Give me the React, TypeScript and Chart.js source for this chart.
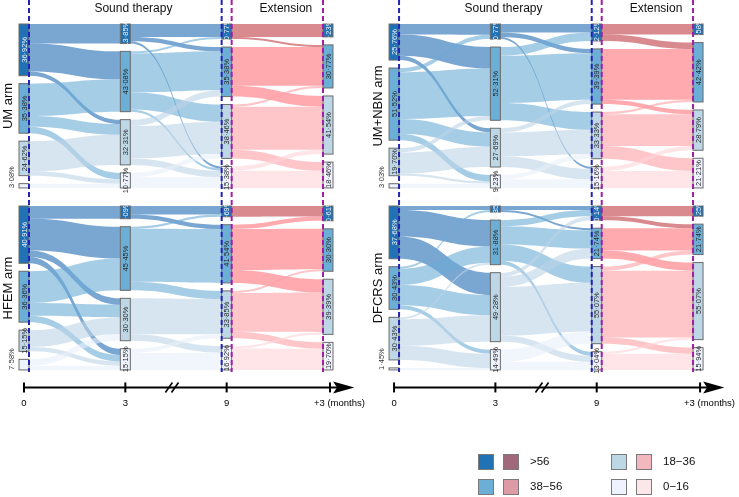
import React, { useEffect, useRef } from 'react';
import { Chart, registerables } from 'chart.js';

Chart.register(...registerables);

// ---------------- data ----------------
const CATEGORIES = ['>56', '38\u221256', '18\u221236', '0\u221216'];
const STAGE_LABELS = ['0', '3', '9', '+3 (months)'];
const ARM_NAMES = ['UM arm', 'UM+NBN arm', 'HFEM arm', 'DFCRS arm'];
const SECTION_TITLES = ['Sound therapy', 'Extension'];

// % of patients per category (>56, 38-56, 18-36, 0-16) at 0, 3, 9, +3 months
const UM_NODES = [
  [36.92, 35.38, 24.62, 3.08],
  [13.85, 43.08, 32.31, 10.77],
  [10.77, 35.38, 38.46, 15.38],
  [9.23, 30.77, 41.54, 18.46],
];
const HFEM_NODES = [
  [40.91, 36.36, 15.15, 7.58],
  [9.09, 45.45, 30.3, 15.15],
  [7.69, 41.54, 33.85, 16.92],
  [10.61, 30.3, 39.39, 19.7],
];
const UMNBN_NODES = [
  [25.76, 51.52, 19.7, 3.03],
  [10.77, 52.31, 27.69, 9.23],
  [12.12, 39.39, 33.33, 15.16],
  [7.58, 42.42, 28.79, 21.21],
];
const DFCRS_NODES = [
  [37.68, 30.43, 30.43, 1.45],
  [4.35, 31.88, 49.28, 14.49],
  [10.14, 21.74, 55.07, 13.04],
  [7.25, 21.74, 55.07, 15.94],
];

// transitions (patients): [from category][to category], for 0->3, 3->9, 9->+3
const UM_FLOWS = [
  [[9, 13, 2, 0], [0, 15, 5, 3], [0, 0, 14, 2], [0, 0, 0, 2]],
  [[6, 2, 0, 1], [1, 18, 8, 1], [0, 3, 15, 3], [0, 0, 2, 5]],
  [[6, 1, 0, 0], [0, 18, 5, 0], [0, 1, 20, 4], [0, 0, 2, 8]],
];
const HFEM_FLOWS = [
  [[6, 15, 3, 3], [0, 15, 6, 3], [0, 0, 8, 2], [0, 0, 3, 2]],
  [[4, 2, 0, 0], [1, 25, 4, 0], [0, 0, 17, 3], [0, 0, 2, 8]],
  [[5, 0, 0, 0], [2, 19, 6, 0], [0, 1, 18, 3], [0, 0, 1, 10]],
];
const UMNBN_FLOWS = [
  [[5, 10, 2, 0], [2, 22, 7, 3], [0, 2, 10, 1], [0, 0, 0, 2]],
  [[4, 2, 0, 1], [4, 22, 8, 0], [0, 2, 11, 5], [0, 0, 2, 4]],
  [[5, 3, 0, 0], [0, 24, 2, 0], [0, 1, 15, 6], [0, 0, 2, 8]],
];
const DFCRS_FLOWS = [
  [[2, 13, 11, 0], [1, 8, 10, 2], [0, 1, 13, 7], [0, 0, 0, 1]],
  [[2, 1, 0, 0], [3, 9, 8, 2], [2, 5, 24, 3], [0, 0, 6, 4]],
  [[5, 2, 0, 0], [0, 11, 4, 0], [0, 2, 33, 3], [0, 0, 1, 8]],
];

// ---------------- styles ----------------
const NODE_BLUE = ['#2171b5', '#6baed6', '#bdd7e7', '#eff3ff'];
const LEGEND_RED = ['#a0687a', '#de9aa5', '#f2b8bd', '#fbe6e9'];
const FLOW_BLUE = ['rgba(33,107,180,0.6)', 'rgba(107,172,213,0.6)', 'rgba(188,212,230,0.6)', 'rgba(232,239,250,0.6)'];
const FLOW_RED = ['rgba(192,60,67,0.6)', 'rgba(255,113,122,0.6)', 'rgba(255,160,166,0.6)', 'rgba(255,212,216,0.6)'];
const FONT = '"Liberation Sans", Arial, Helvetica, sans-serif';

const GAP = 5.7;
const PANEL_H = 100 + 3 * GAP;
const ROW_OFFSET = 130;
const COL_OFFSET = 3.652;
const NODE_W = 0.0987;
const PX_X = 101.33;
const PX_Y = 1.4;

const PANELS = [
  { name: ARM_NAMES[0], nodes: UM_NODES, flows: UM_FLOWS, col: 0, row: 0 },
  { name: ARM_NAMES[1], nodes: UMNBN_NODES, flows: UMNBN_FLOWS, col: 1, row: 0 },
  { name: ARM_NAMES[2], nodes: HFEM_NODES, flows: HFEM_FLOWS, col: 0, row: 1 },
  { name: ARM_NAMES[3], nodes: DFCRS_NODES, flows: DFCRS_FLOWS, col: 1, row: 1 },
];

const fmt = (v: number) => v.toFixed(2).replace('.', '\u00b7') + '%';
const sum = (a: number[]) => a.reduce((s, v) => s + v, 0);

function drawPanel(ctx: CanvasRenderingContext2D, xs: any, ys: any, p: any) {
  const X = (v: number) => xs.getPixelForValue(p.col * COL_OFFSET + v);
  const Y = (v: number) => ys.getPixelForValue(p.row * ROW_OFFSET + v);
  const hw = NODE_W / 2;
  const pos = p.nodes.map((stage: number[]) => {
    let acc = 0;
    return stage.map((v) => {
      const a = acc;
      acc += v + GAP;
      return [a, a + v];
    });
  });

  // flows
  p.flows.forEach((F: number[][], s: number) => {
    const rowSum = F.map(sum);
    const colSum = [0, 1, 2, 3].map((j) => sum(F.map((r) => r[j])));
    const srcOff = pos[s].map((n: number[]) => n[0]);
    const tgtOff = pos[s + 1].map((n: number[]) => n[0]);
    const x0 = X(s + hw);
    const x1 = X(s + 1 - hw);
    const xm = (x0 + x1) / 2;
    for (let i = 0; i < 4; i++) {
      for (let j = 0; j < 4; j++) {
        const f = F[i][j];
        if (!f) continue;
        const ts = (f / rowSum[i]) * p.nodes[s][i];
        const tt = (f / colSum[j]) * p.nodes[s + 1][j];
        const s0 = srcOff[i], s1 = s0 + ts;
        const t0 = tgtOff[j], t1 = t0 + tt;
        srcOff[i] = s1;
        tgtOff[j] = t1;
        ctx.fillStyle = s < 2 ? FLOW_BLUE[i] : FLOW_RED[i];
        ctx.beginPath();
        ctx.moveTo(x0, Y(s0));
        ctx.bezierCurveTo(xm, Y(s0), xm, Y(t0), x1, Y(t0));
        ctx.lineTo(x1, Y(t1));
        ctx.bezierCurveTo(xm, Y(t1), xm, Y(s1), x0, Y(s1));
        ctx.closePath();
        ctx.fill();
      }
    }
  });

  // nodes
  pos.forEach((stage: number[][], s: number) => {
    stage.forEach(([a, b], k) => {
      const l = X(s - hw), r = X(s + hw);
      const t = Y(a), bt = Y(b);
      ctx.fillStyle = NODE_BLUE[k];
      ctx.fillRect(l, t, r - l, bt - t);
      ctx.strokeStyle = '#6b6b6b';
      ctx.lineWidth = 1;
      ctx.strokeRect(l, t, r - l, bt - t);
    });
  });

  // node labels
  ctx.font = `7.5px ${FONT}`;
  pos.forEach((stage: number[][], s: number) => {
    stage.forEach(([a, b], k) => {
      const v = p.nodes[s][k];
      ctx.save();
      ctx.textBaseline = 'middle';
      if (s === 0 && v < 10) {
        ctx.translate(X(s - hw) - 8, Y(b));
        ctx.rotate(-Math.PI / 2);
        ctx.textAlign = 'left';
        ctx.fillStyle = '#333';
      } else {
        ctx.translate(X(s), (Y(a) + Y(b)) / 2);
        ctx.rotate(-Math.PI / 2);
        ctx.textAlign = 'center';
        ctx.fillStyle = k === 0 ? '#f2f2f2' : '#2a2a2a';
      }
      ctx.fillText(fmt(v), 0, 0.5);
      ctx.restore();
    });
  });

  // arm label
  ctx.save();
  ctx.font = `13px ${FONT}`;
  ctx.fillStyle = '#111';
  ctx.textAlign = 'center';
  ctx.textBaseline = 'middle';
  ctx.translate(X(-0.155), Y(PANEL_H / 2));
  ctx.rotate(-Math.PI / 2);
  ctx.fillText(p.name, 0, 0);
  ctx.restore();
}

const sankeyPlugin = {
  id: 'sankeyPanels',
  afterDraw(chart: any) {
    const ctx: CanvasRenderingContext2D = chart.ctx;
    const xs = chart.scales.x;
    const ys = chart.scales.y;
    ctx.save();
    PANELS.forEach((p) => drawPanel(ctx, xs, ys, p));

    const hw = NODE_W / 2;
    [0, 1].forEach((col) => {
      const X = (v: number) => xs.getPixelForValue(col * COL_OFFSET + v);
      const Y0 = (v: number) => ys.getPixelForValue(v);
      const Y1 = (v: number) => ys.getPixelForValue(ROW_OFFSET + v);

      // section titles
      ctx.font = `12px ${FONT}`;
      ctx.fillStyle = '#111';
      ctx.textAlign = 'center';
      ctx.textBaseline = 'middle';
      ctx.fillText(SECTION_TITLES[0], X(1.08), Y0(-10.6));
      ctx.fillText(SECTION_TITLES[1], X(2.585), Y0(-10.6));

      // dashed guides
      const top = ys.getPixelForValue(ys.min);
      const bottom = Y1(PANEL_H + 1.5);
      ctx.lineWidth = 2;
      ctx.setLineDash([5, 3]);
      const guides: [number, string][] = [
        [0 + hw, '#2323b8'],
        [2 - hw, '#2323b8'],
        [2 + hw, '#a21ea2'],
        [3 - hw, '#a21ea2'],
      ];
      guides.forEach(([gx, c]) => {
        ctx.strokeStyle = c;
        ctx.beginPath();
        ctx.moveTo(X(gx), top);
        ctx.lineTo(X(gx), bottom);
        ctx.stroke();
      });
      ctx.setLineDash([]);

      // time axis
      const ay = Y1(PANEL_H + 12.5);
      ctx.strokeStyle = '#000';
      ctx.fillStyle = '#000';
      ctx.lineWidth = 2;
      ctx.beginPath();
      ctx.moveTo(X(0), ay);
      ctx.lineTo(X(3.1), ay);
      ctx.stroke();
      [0, 1, 2, 3.02].forEach((t) => {
        ctx.beginPath();
        ctx.moveTo(X(t), ay - 5);
        ctx.lineTo(X(t), ay + 5);
        ctx.stroke();
      });
      // arrow head
      const ax0 = X(3.05), ax1 = X(3.26);
      ctx.beginPath();
      ctx.moveTo(ax1, ay);
      ctx.lineTo(ax0, ay - 6);
      ctx.lineTo(ax0 + 4, ay);
      ctx.lineTo(ax0, ay + 6);
      ctx.closePath();
      ctx.fill();
      // break marks
      ctx.lineWidth = 1.6;
      [1.43, 1.49].forEach((b) => {
        ctx.beginPath();
        ctx.moveTo(X(b) - 3.5, ay + 5);
        ctx.lineTo(X(b) + 3.5, ay - 5);
        ctx.stroke();
      });
      // tick labels
      ctx.font = `9.5px ${FONT}`;
      ctx.textBaseline = 'middle';
      STAGE_LABELS.forEach((lab, k) => {
        if (k < 3) {
          ctx.textAlign = 'center';
          ctx.fillText(lab, X(k), ay + 16);
        } else {
          ctx.textAlign = 'left';
          ctx.fillText(lab, X(k) - 14, ay + 16);
        }
      });
    });

    // legend
    const box = 16;
    const cols = [478, 611];
    const rows = [454, 479];
    ctx.font = `11.5px ${FONT}`;
    ctx.textAlign = 'left';
    ctx.textBaseline = 'middle';
    CATEGORIES.forEach((cat, k) => {
      const cx = cols[k < 2 ? 0 : 1];
      const cy = rows[k % 2];
      [NODE_BLUE[k], LEGEND_RED[k]].forEach((c, m) => {
        const bx = cx + m * 25;
        ctx.fillStyle = c;
        ctx.fillRect(bx, cy, box, box);
        ctx.strokeStyle = '#7a7a7a';
        ctx.lineWidth = 1;
        ctx.strokeRect(bx + 0.5, cy + 0.5, box - 1, box - 1);
      });
      ctx.fillStyle = '#111';
      ctx.fillText(cat, cx + 52, cy + box / 2);
    });
    ctx.restore();
  },
};

export default function App() {
  const ref = useRef<HTMLCanvasElement | null>(null);
  useEffect(() => {
    document.body.style.margin = '0';
    const canvas = ref.current!;
    const chart = new Chart(canvas, {
      type: 'scatter',
      data: { datasets: [{ data: [] }] },
      options: {
        animation: false,
        responsive: false,
        maintainAspectRatio: false,
        layout: { padding: 0 },
        plugins: { legend: { display: false }, tooltip: { enabled: false }, title: { display: false } },
        scales: {
          x: { type: 'linear', display: false, min: -24 / PX_X, max: -24 / PX_X + 739 / PX_X },
          y: { type: 'linear', display: false, reverse: true, min: -24 / PX_Y, max: -24 / PX_Y + 497 / PX_Y },
        },
      },
      plugins: [sankeyPlugin],
    });
    return () => chart.destroy();
  }, []);
  return (
    <div style={{ width: 739, height: 497, background: '#fff' }}>
      <canvas ref={ref} width={739} height={497} style={{ display: 'block' }} />
    </div>
  );
}
